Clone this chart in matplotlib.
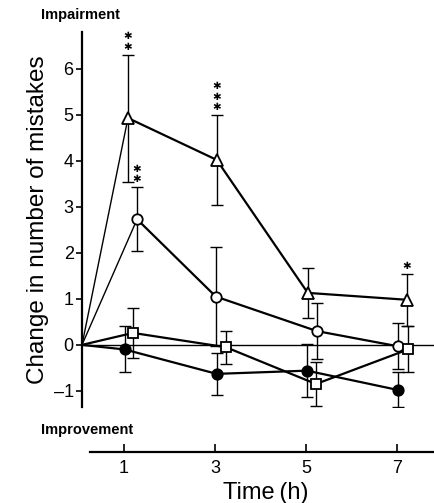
import numpy as np
import matplotlib
matplotlib.use('Agg')
import matplotlib.pyplot as plt

plt.rcParams['font.family'] = ['Liberation Sans', 'DejaVu Sans']

# sampling times (h), each series slightly shifted as in the original
tick_times = [1, 3, 5, 7]
t_start = 0.08   # baseline point sits on the y axis

tri_x = [1.09, 3.04, 5.04, 7.22]
tri_y = [4.93, 4.02, 1.13, 0.98]
tri_err = [1.38, 0.98, 0.55, 0.57]

circ_x = [1.29, 3.02, 5.24, 7.02]
circ_y = [2.73, 1.05, 0.30, -0.03]
circ_err = [0.70, 1.07, 0.60, 0.50]

sq_x = [1.20, 3.24, 5.22, 7.24]
sq_y = [0.26, -0.05, -0.85, -0.10]
sq_err = [0.55, 0.36, 0.48, 0.50]

fill_x = [1.02, 3.04, 5.02, 7.02]
fill_y = [-0.10, -0.63, -0.56, -0.98]
fill_err = [0.50, 0.45, 0.58, 0.38]

# significance marks over the upper error bars
star_x = [tri_x[0], circ_x[0], tri_x[1], tri_x[3]]
star_top = [tri_y[0] + tri_err[0], circ_y[0] + circ_err[0],
            tri_y[1] + tri_err[1], tri_y[3] + tri_err[3]]
star_n = [2, 2, 3, 1]

fig = plt.figure(figsize=(4.35, 5.03), dpi=100)
ax = fig.add_axes([82/435, 1-407/503, (435-82)/435, (407-32)/503])

ax.set_xlim(t_start, 7.835)
ax.set_ylim(-1.35, 6.8)

ax.axhline(0, color='black', lw=1.0, zorder=1)

series = [
    (tri_x, tri_y, tri_err, '^', 'white', 8.5, True),
    (circ_x, circ_y, circ_err, 'o', 'white', 7.5, True),
    (sq_x, sq_y, sq_err, 's', 'white', 6.5, False),
    (fill_x, fill_y, fill_err, 'o', 'black', 7.5, False),
]
for xs, ys, es, m, fc, ms, thin_first in series:
    ax.errorbar(xs, ys, yerr=es, fmt='none', ecolor='black', elinewidth=1.0,
                capsize=4.5, capthick=1.0, zorder=2)
    ax.plot([t_start, xs[0]], [0, ys[0]], color='black',
            lw=1.0 if thin_first else 1.6, zorder=3)
    ax.plot(xs, ys, color='black', lw=1.6, zorder=3)
    ax.plot(xs, ys, ls='none', marker=m, ms=ms, mfc=fc, mec='black',
            mew=1.3, zorder=4)

for x, top, n in zip(star_x, star_top, star_n):
    ax.annotate('\n'.join(['\u2731'] * n), (x, top), xytext=(0, 2),
                textcoords='offset points', ha='center', va='bottom',
                fontsize=7.5, family=['DejaVu Sans'], linespacing=1.05)

ax.spines['top'].set_visible(False)
ax.spines['right'].set_visible(False)
ax.spines['left'].set_linewidth(1.6)
ax.spines['bottom'].set_position(('outward', 32.4))
ax.spines['bottom'].set_bounds(0.25, 7.835)
ax.spines['bottom'].set_linewidth(1.6)

ax.set_yticks(range(-1, 7))
ax.set_yticklabels(['\u20131'] + [str(v) for v in range(0, 7)])
ax.set_xticks(tick_times)
ax.tick_params(axis='y', direction='out', length=4, width=1.2,
               labelsize=13, pad=2)
ax.tick_params(axis='x', direction='in', length=6, width=1.2,
               labelsize=13, pad=6)

ax.set_ylabel('Change in number of mistakes', fontsize=17.5, labelpad=3)
ax.set_xlabel('Time\u2009(h)', fontsize=17, labelpad=1)
ax.xaxis.set_label_coords(0.52, -0.2)

fig.text(41/435, 1-15/503, 'Impairment', fontsize=10.5, va='center',
         ha='left', fontweight='bold')
fig.text(41/435, 1-430/503, 'Improvement', fontsize=10.5, va='center',
         ha='left', fontweight='bold')

fig.savefig('out.png', dpi=100)
